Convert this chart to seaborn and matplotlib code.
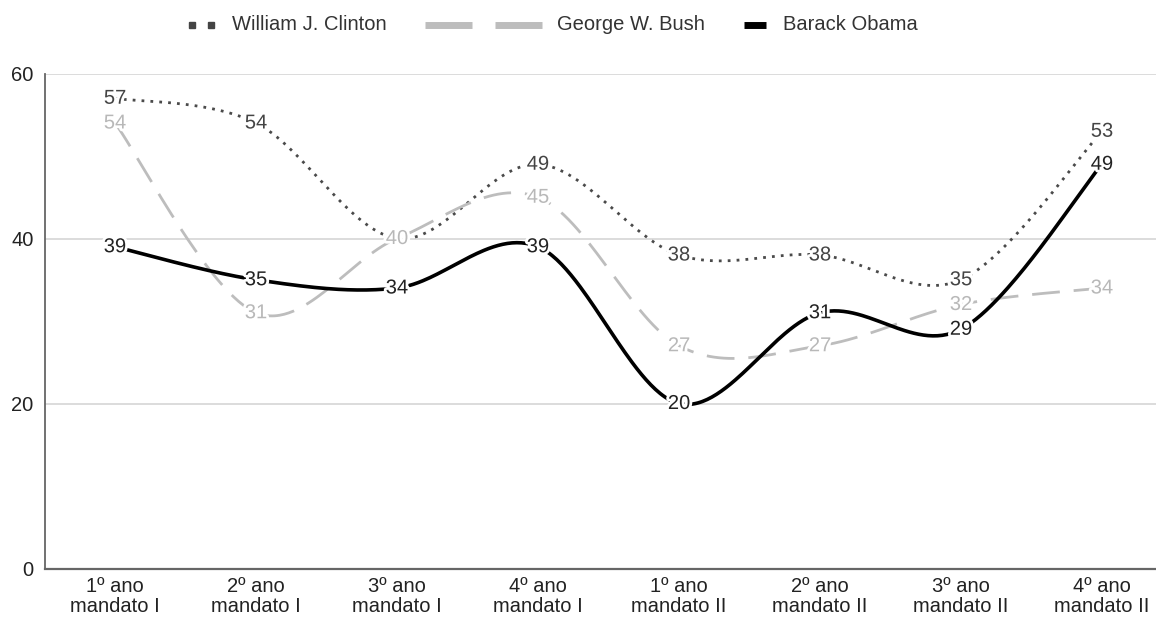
import numpy as np
import pandas as pd
import matplotlib
matplotlib.use("Agg")
import matplotlib.pyplot as plt
import seaborn as sns
from matplotlib import patheffects as pe
from matplotlib.lines import Line2D

# ---- data ---------------------------------------------------------------
categories = [
    "1º ano\nmandato I", "2º ano\nmandato I", "3º ano\nmandato I", "4º ano\nmandato I",
    "1º ano\nmandato II", "2º ano\nmandato II", "3º ano\nmandato II", "4º ano\nmandato II",
]
clinton = [57, 54, 40, 49, 38, 38, 35, 53]
bush = [54, 31, 40, 45, 27, 27, 32, 34]
obama = [39, 35, 34, 39, 20, 31, 29, 49]
series_names = ["William J. Clinton", "George W. Bush", "Barack Obama"]
y_ticks = [0, 20, 40, 60]

# ---- styling ------------------------------------------------------------
sns.set_theme(style="white")
plt.rcParams["font.family"] = ["Liberation Sans", "DejaVu Sans"]

W, H = 1156, 623
fig = plt.figure(figsize=(W / 100, H / 100), dpi=100)
# plot area (pixel geometry converted to figure fractions)
left_px, right_px, top_px, bottom_px = 44.5, 1172.5, 73.5, 568.5
ax = fig.add_axes([left_px / W, 1 - bottom_px / H,
                   (right_px - left_px) / W, (bottom_px - top_px) / H])

styles = {
    "William J. Clinton": dict(color="#4a4a4a", lw=2.0, ls=(0, (1.0, 2.2)),
                               label_color="#444444"),
    "George W. Bush": dict(color="#bdbdbd", lw=2.0, ls=(0, (10, 5)),
                           label_color="#b8b8b8"),
    "Barack Obama": dict(color="#000000", lw=2.6, ls="-",
                         label_color="#222222"),
}
values = {"William J. Clinton": clinton, "George W. Bush": bush, "Barack Obama": obama}


def smooth_curve(vals, n=60):
    """Cubic Bezier spline through the points (Catmull-Rom control points)."""
    y = np.asarray(vals, dtype=float)
    pts = np.column_stack([np.arange(len(y), dtype=float), y])
    ext = np.vstack([pts[0], pts, pts[-1]])
    t = np.linspace(0, 1, n, endpoint=False)[:, None]
    out = []
    for i in range(len(pts) - 1):
        p0, p1, p2, p3 = ext[i], ext[i + 1], ext[i + 2], ext[i + 3]
        c1 = p1 + (p2 - p0) / 6.0
        c2 = p2 - (p3 - p1) / 6.0
        seg = ((1 - t) ** 3) * p1 + 3 * ((1 - t) ** 2) * t * c1 \
            + 3 * (1 - t) * t ** 2 * c2 + t ** 3 * p2
        out.append(seg)
    out.append(pts[-1:])
    arr = np.vstack(out)
    return arr[:, 0], arr[:, 1]


for name in series_names:
    xs, ys = smooth_curve(values[name])
    st = styles[name]
    df = pd.DataFrame({"x": xs, "y": ys})
    sns.lineplot(data=df, x="x", y="y", ax=ax, sort=False, estimator=None,
                 color=st["color"], linewidth=st["lw"], linestyle=st["ls"],
                 zorder=3)

# value labels centred on the points, with a white halo
occupied = set()
for name in reversed(series_names):
    st = styles[name]
    for i, v in enumerate(values[name]):
        if (i, v) in occupied:
            continue
        occupied.add((i, v))
        ax.text(i, v, str(v), ha="center", va="center", fontsize=14.5,
                color=st["label_color"], zorder=6,
                path_effects=[pe.withStroke(linewidth=4, foreground="white")])

# axes, grid, ticks
ax.set_xlim(-0.5, len(categories) - 0.5)
ax.set_ylim(0, 60)
ax.set_yticks(y_ticks)
ax.set_xticks(range(len(categories)))
ax.set_xticklabels(categories, fontsize=14.5, color="#222222", linespacing=1.05)
ax.set_yticklabels([str(v) for v in y_ticks], fontsize=14.5, color="#222222")
ax.tick_params(axis="both", length=0, pad=8)
ax.tick_params(axis="x", pad=6)
ax.set_xlabel("")
ax.set_ylabel("")
for yv in y_ticks[1:]:
    ax.axhline(yv, color="#d9d9d9", lw=1.3, zorder=1)
for side in ["top", "right"]:
    ax.spines[side].set_visible(False)
ax.spines["left"].set_color("#666666")
ax.spines["left"].set_linewidth(1.3)
ax.spines["bottom"].set_color("#666666")
ax.spines["bottom"].set_linewidth(1.6)


# legend along the top (pixel layout)
def fx(px):
    return px / W


def fy(py):
    return 1 - py / H


ly = 25
fig.add_artist(Line2D([fx(192), fx(211)], [fy(ly), fy(ly)], color="#444444",
                      lw=0, marker="s", markersize=4.5))
fig.text(fx(232), fy(ly), series_names[0], fontsize=14.5, color="#333333",
         va="center", ha="left")
fig.add_artist(Line2D([fx(425), fx(472)], [fy(ly), fy(ly)], color="#bdbdbd", lw=5,
                      solid_capstyle="butt"))
fig.add_artist(Line2D([fx(495), fx(542)], [fy(ly), fy(ly)], color="#bdbdbd", lw=5,
                      solid_capstyle="butt"))
fig.text(fx(557), fy(ly), series_names[1], fontsize=14.5, color="#333333",
         va="center", ha="left")
fig.add_artist(Line2D([fx(744), fx(766)], [fy(ly), fy(ly)], color="#000000", lw=5,
                      solid_capstyle="butt"))
fig.text(fx(783), fy(ly), series_names[2], fontsize=14.5, color="#333333",
         va="center", ha="left")

fig.savefig("out.png", dpi=100, facecolor="white")
